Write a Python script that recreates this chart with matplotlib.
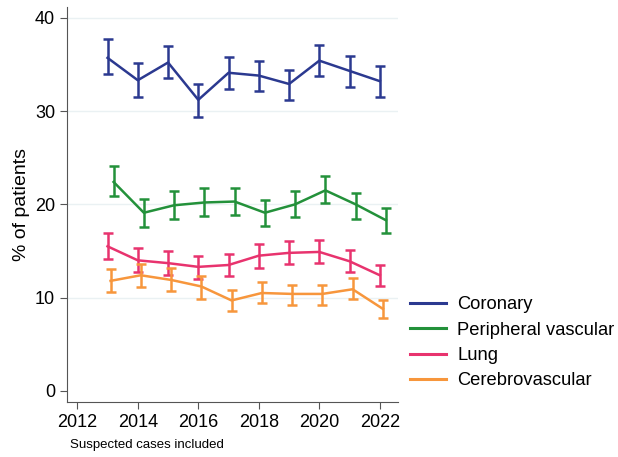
import numpy as np
import matplotlib.pyplot as plt
from matplotlib.lines import Line2D

plt.rcParams['font.family'] = ['Liberation Sans', 'DejaVu Sans']

years = np.arange(2013, 2023)

coronary = [35.7, 33.3, 35.2, 31.2, 34.1, 33.8, 32.9, 35.4, 34.3, 33.2]
coronary_lo = [34.0, 31.5, 33.5, 29.4, 32.4, 32.2, 31.2, 33.8, 32.6, 31.5]
coronary_hi = [37.7, 35.1, 37.0, 32.9, 35.8, 35.4, 34.4, 37.1, 35.9, 34.8]

peripheral = [22.4, 19.1, 19.9, 20.2, 20.3, 19.1, 20.0, 21.5, 20.0, 18.3]
peripheral_lo = [20.9, 17.6, 18.4, 18.8, 18.9, 17.7, 18.6, 20.1, 18.4, 16.9]
peripheral_hi = [24.1, 20.6, 21.4, 21.7, 21.8, 20.5, 21.4, 23.0, 21.2, 19.6]

lung = [15.5, 14.0, 13.7, 13.3, 13.5, 14.5, 14.8, 14.9, 13.9, 12.4]
lung_lo = [14.1, 12.7, 12.4, 12.0, 12.3, 13.2, 13.6, 13.7, 12.7, 11.2]
lung_hi = [16.9, 15.3, 15.0, 14.5, 14.7, 15.7, 16.1, 16.2, 15.1, 13.5]

cerebro = [11.8, 12.4, 11.9, 11.2, 9.7, 10.5, 10.4, 10.4, 10.9, 8.8]
cerebro_lo = [10.6, 11.1, 10.7, 9.9, 8.6, 9.4, 9.2, 9.2, 9.9, 7.8]
cerebro_hi = [13.1, 13.6, 13.2, 12.3, 10.8, 11.7, 11.4, 11.4, 12.1, 9.8]

series = [
    ("Coronary", coronary, coronary_lo, coronary_hi, "#2b3990", 0.0),
    ("Peripheral vascular", peripheral, peripheral_lo, peripheral_hi, "#23913a", 0.2),
    ("Lung", lung, lung_lo, lung_hi, "#e8336e", 0.0),
    ("Cerebrovascular", cerebro, cerebro_lo, cerebro_hi, "#f7963c", 0.1),
]

fig = plt.figure(figsize=(6.18, 4.57), dpi=100)
ax = fig.add_axes([0.1084, 0.1204, 0.5356, 0.8643])

handles = []
for name, val, lo, hi, col, dx in series:
    val = np.array(val)
    err = [val - np.array(lo), np.array(hi) - val]
    ax.errorbar(years + dx, val, yerr=err, color=col, lw=1.8, elinewidth=1.8,
                capsize=3.4, capthick=1.8)
    handles.append(Line2D([], [], color=col, lw=2.2, label=name))

ax.set_xlim(2011.66, 2022.6)
ax.set_ylim(-1.18, 41.15)
ax.set_xticks(range(2012, 2023, 2))
ax.set_yticks(range(0, 41, 10))
for y in range(10, 41, 10):
    ax.axhline(y, color="#eaf1f3", lw=1, zorder=0)

ax.spines['top'].set_visible(False)
ax.spines['right'].set_visible(False)
ax.spines['left'].set_color('#555555')
ax.spines['bottom'].set_color('#555555')
ax.tick_params(labelsize=13, length=5, color='#555555')
ax.set_ylabel("% of patients", fontsize=14)

fig.legend(handles=handles, loc='upper left', bbox_to_anchor=(393 / 618, 1 - 280 / 457),
           frameon=False, fontsize=13.2, handlelength=2.0, handletextpad=0.6,
           labelspacing=0.45)

fig.text(70 / 618, 1 - 448 / 457, "Suspected cases included", fontsize=9.5)

fig.savefig("out.png", dpi=100)
